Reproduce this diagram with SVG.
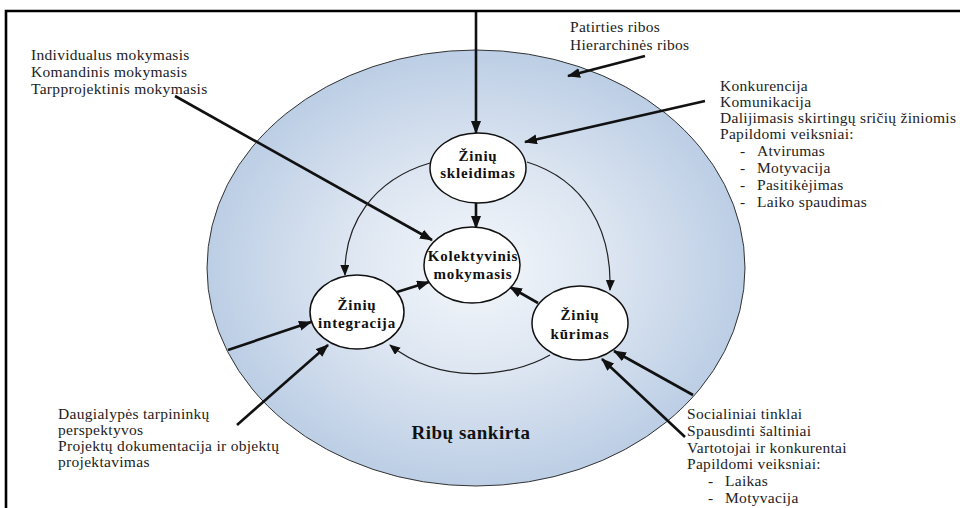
<svg xmlns="http://www.w3.org/2000/svg" width="960" height="508" viewBox="0 0 960 508">
<style>
.t{font-family:'Liberation Serif','DejaVu Serif','Times New Roman',serif;font-size:15.5px;fill:#222;letter-spacing:0.3px}
.n{font-family:'Liberation Serif','DejaVu Serif','Times New Roman',serif;font-size:15px;font-weight:bold;fill:#111;text-anchor:middle;letter-spacing:0.8px}
.c{fill:#fff;stroke:#111;stroke-width:1.5}
.thick{fill:none;stroke:#111;stroke-width:2.6;marker-end:url(#ah)}
.thin{fill:none;stroke:#222;stroke-width:1.2;marker-end:url(#ahs)}
</style>
<defs>
<radialGradient id="bg" cx="0.5" cy="0.5" r="0.5">
<stop offset="0" stop-color="#f4f7fb"/>
<stop offset="0.5" stop-color="#dce5f1"/>
<stop offset="1" stop-color="#bccee5"/>
</radialGradient>
<marker id="ah" markerUnits="userSpaceOnUse" markerWidth="14" markerHeight="11" refX="12" refY="5" orient="auto"><path d="M0,0 L13,5 L0,10 z" fill="#111"/></marker>
<marker id="ahs" markerUnits="userSpaceOnUse" markerWidth="12" markerHeight="10" refX="10" refY="4.5" orient="auto"><path d="M0,0 L11,4.5 L0,9 z" fill="#111"/></marker>
</defs>
<rect width="960" height="508" fill="#fff"/>
<path d="M6,508 V11 H960" fill="none" stroke="#000" stroke-width="2.6"/>
<g id="boundary">
<ellipse cx="476" cy="268" rx="269" ry="218" fill="url(#bg)" stroke="#333" stroke-width="1"/>
<text x="471" y="439" class="n" style="font-size:19px;letter-spacing:0.5px">Ribų sankirta</text>
</g>
<g id="connectors">
<line class="thick" x1="476" y1="12" x2="476" y2="133"/>
<line class="thick" x1="645" y1="56" x2="568" y2="76"/>
<line class="thick" x1="705" y1="101" x2="525" y2="142"/>
<line class="thick" x1="175" y1="96" x2="432" y2="240"/>
<line class="thick" x1="228" y1="350" x2="311" y2="322"/>
<line class="thick" x1="237" y1="425" x2="328" y2="345"/>
<line class="thick" x1="693" y1="395" x2="614" y2="351"/>
<line class="thick" x1="685" y1="437" x2="602" y2="359"/>
<line class="thick" x1="476" y1="203" x2="476" y2="228"/>
<line class="thick" x1="397" y1="292" x2="429" y2="282"/>
<line class="thick" x1="538" y1="303" x2="510" y2="287"/>
<path class="thin" d="M430,163 C372,180 344,225 345,275"/>
<path class="thin" d="M527,162 C585,180 612,230 610,290"/>
<path class="thin" d="M550,355 C510,378 440,385 390,345"/>
</g>
<g id="node-skleidimas">
<ellipse class="c" cx="478" cy="168" rx="48" ry="35"/>
<text class="n" x="478" y="161">Žinių</text>
<text class="n" x="478" y="178">skleidimas</text>
</g>
<g id="node-kolektyvinis">
<ellipse class="c" cx="472" cy="265" rx="48" ry="38"/>
<text class="n" x="473" y="261">Kolektyvinis</text>
<text class="n" x="473" y="279">mokymasis</text>
</g>
<g id="node-integracija">
<ellipse class="c" cx="357" cy="312" rx="47" ry="37"/>
<text class="n" x="357" y="310">Žinių</text>
<text class="n" x="357" y="328">integracija</text>
</g>
<g id="node-kurimas">
<ellipse class="c" cx="580" cy="323" rx="48" ry="37"/>
<text class="n" x="580" y="320">Žinių</text>
<text class="n" x="580" y="339">kūrimas</text>
</g>
<g id="label-top-left">
<text class="t" x="31" y="60">Individualus mokymasis</text>
<text class="t" x="31" y="77">Komandinis mokymasis</text>
<text class="t" x="31" y="94">Tarpprojektinis mokymasis</text>
</g>
<g id="label-top">
<text class="t" x="570" y="32">Patirties ribos</text>
<text class="t" x="570" y="50">Hierarchinės ribos</text>
</g>
<g id="label-right">
<text class="t" x="720" y="91">Konkurencija</text>
<text class="t" x="720" y="107">Komunikacija</text>
<text class="t" x="720" y="123">Dalijimasis skirtingų sričių žiniomis</text>
<text class="t" x="720" y="139">Papildomi veiksniai:</text>
<text class="t" x="740" y="156">-</text><text class="t" x="757" y="156">Atvirumas</text>
<text class="t" x="740" y="173">-</text><text class="t" x="757" y="173">Motyvacija</text>
<text class="t" x="740" y="190">-</text><text class="t" x="757" y="190">Pasitikėjimas</text>
<text class="t" x="740" y="207">-</text><text class="t" x="757" y="207">Laiko spaudimas</text>
</g>
<g id="label-bottom-left">
<text class="t" x="58" y="419">Daugialypės tarpininkų</text>
<text class="t" x="58" y="435">perspektyvos</text>
<text class="t" x="58" y="451">Projektų dokumentacija ir objektų</text>
<text class="t" x="58" y="467">projektavimas</text>
</g>
<g id="label-bottom-right">
<text class="t" x="687" y="419">Socialiniai tinklai</text>
<text class="t" x="687" y="436">Spausdinti šaltiniai</text>
<text class="t" x="687" y="453">Vartotojai ir konkurentai</text>
<text class="t" x="687" y="469">Papildomi veiksniai:</text>
<text class="t" x="708" y="486">-</text><text class="t" x="725" y="486">Laikas</text>
<text class="t" x="708" y="503">-</text><text class="t" x="725" y="503">Motyvacija</text>
</g>
</svg>
